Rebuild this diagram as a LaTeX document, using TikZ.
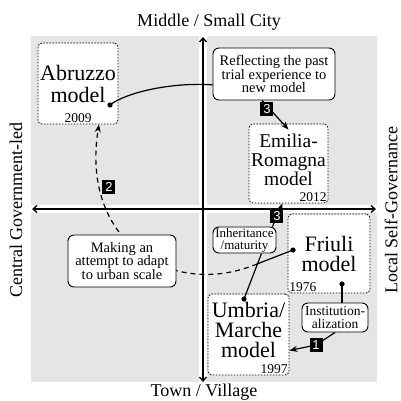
\documentclass[tikz,border=0pt]{standalone}
\usepackage{fontspec}
\setmainfont{Liberation Serif}
\newfontfamily\numfont{Liberation Sans}
\usetikzlibrary{arrows.meta,calc}

\tikzset{
  model/.style={draw, line width=0.8pt, dash pattern=on 1.6pt off 1.4pt, rounded corners=4pt, fill=white, align=center, inner sep=1pt, font=\fontsize{22}{20}\selectfont},
  note/.style={draw, line width=0.9pt, rounded corners=6pt, fill=white, align=center, inner sep=1pt, font=\fontsize{14.5}{13.5}\selectfont},
  year/.style={font=\fontsize{13.5}{14}\selectfont, inner sep=1.5pt},
  num/.style={fill=black, text=white, font=\numfont\fontsize{13}{13}\selectfont, inner sep=0pt, minimum width=13pt, minimum height=14pt},
  link/.style={line width=1.2pt},
  arr/.style={link, -{Stealth[length=8pt,width=6pt]}},
  axis/.style={line width=1.3pt, {Straight Barb[length=4pt,width=7pt]}-{Straight Barb[length=4pt,width=7pt]}},
  axlabel/.style={font=\fontsize{18}{18}\selectfont}
}

\begin{document}
\begin{tikzpicture}[x=1pt, y=-1pt]
\useasboundingbox (0,0) rectangle (401,401);

% Hintergrund
\fill[gray!20] (31,36) rectangle (377,382);
\fill[white] (31,205) rectangle (377,213);
\fill[white] (199,36) rectangle (207,382);

% Achsen
\coordinate (axW) at (32,209);
\coordinate (axE) at (376,209);
\coordinate (axN) at (203,37);
\coordinate (axS) at (203,382);
\draw[axis] (axW) -- (axE); % Horizontal
\draw[axis] (axN) -- (axS); % Vertikal
\node[axlabel] (lblN) at (209,22) {Middle / Small City};
\node[axlabel] (lblS) at (204,392) {Town / Village};
\node[axlabel, rotate=90] (lblW) at (16,210) {Central Government-led};
\node[axlabel, rotate=90] (lblE) at (391,210) {Local Self-Governance};

% Modelle
\node[model, minimum width=80pt, minimum height=81pt, font=\fontsize{22}{22}\selectfont, label={[year, anchor=south]south:2009}] (abruzzo) at (78,83.5) {Abruzzo\\model};
\node[model, minimum width=79pt, minimum height=79pt, font=\fontsize{19.5}{19}\selectfont, text depth=7pt, label={[year, anchor=south east]south east:2012}] (emilia) at (288.5,163.5) {Emilia-\\Romagna\\model};
\node[model, minimum width=82pt, minimum height=79pt, label={[year, anchor=south west]south west:1976}] (friuli) at (329,253.5) {Friuli\\model};
\node[model, minimum width=81pt, minimum height=81pt, text depth=10pt, label={[year, anchor=south east]south east:1997}] (umbria) at (248.5,334.5) {Umbria/\\Marche\\model};

% Erlaeuterungen
\node[note, minimum width=122pt, minimum height=52pt] (refl) at (274,74) {Reflecting the past\\trial experience to\\new model};
\node[note, minimum width=63pt, minimum height=26pt, font=\fontsize{13}{12}\selectfont] (inh) at (244.5,240) {Inheritance\\/maturity};
\node[note, minimum width=66pt, minimum height=29pt, font=\fontsize{13.5}{12.5}\selectfont] (inst) at (335,317.5) {Institution-\\alization};

% Punkte
\coordinate (abrdot) at (110,105);
\coordinate (fridot) at (293,250);
\coordinate (fridot2) at (342,284);
\coordinate (umbdot) at (244,299);
\coordinate (bend) at (257,264);
\foreach \p in {abrdot,fridot,fridot2,umbdot}
  \fill (\p) circle[radius=2.6pt];

% Verbindungen
\draw[link] (abrdot) .. controls (125,93) and (170,82) .. (refl.190);
\draw[arr] ($(refl.south)+(-12,0)$) -- ($(emilia.north)+(0,6)$) node[num, pos=0.3, xshift=-3pt] {3};
\draw[arr] ($(inh.north east)+(-4,0)$) -- ($(emilia.south)+(-6,0)$) node[num, pos=0.45] {3};
\draw[link] (umbdot) -- ($(inh.south)+(17,0)$);
\draw[link] (fridot) -- (bend);
\draw[link, dash pattern=on 5pt off 4pt, -{Stealth[length=8pt,width=6pt]}] (bend) .. controls (170,300) and (80,240) .. ($(abruzzo.south)+(21,0)$) node[num, pos=0.8, right=2pt] {2};
\draw[link] (fridot2) -- (fridot2 |- inst.north);
\draw[arr] (inst.south) -- (316,345) node[num] {1} -- ($(umbria.east)+(0,16)$);

% zuletzt, ueber der gestrichelten Kurve
\node[note, minimum width=108pt, minimum height=52pt] (make) at (122,261) {Making an\\attempt to adapt\\to urban scale};
\end{tikzpicture}
\end{document}
